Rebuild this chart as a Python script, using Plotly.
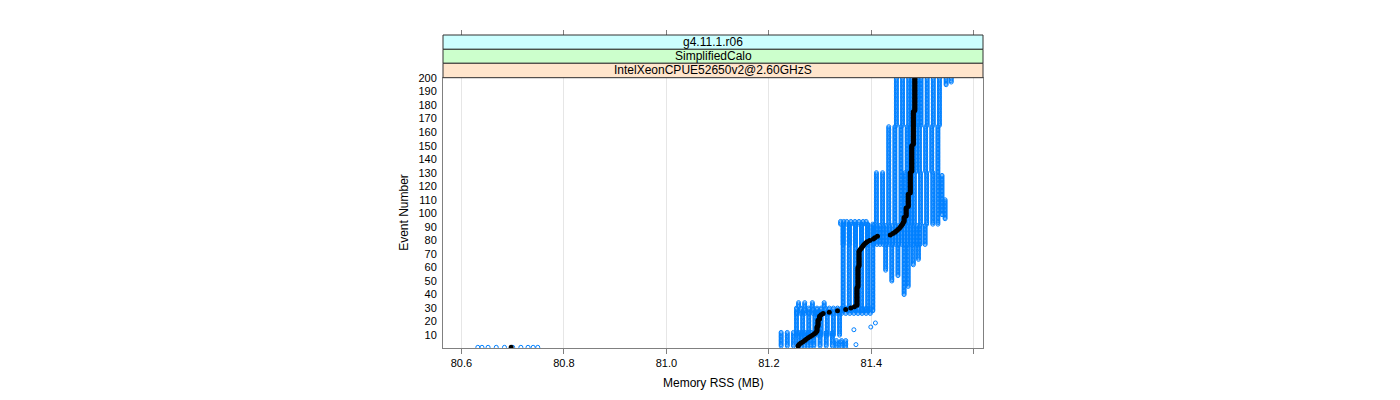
import plotly.graph_objects as go

# ---------------- data ----------------
# black series: (memory RSS in MB, number of consecutive events with that value), events start at 1
black_runs = [
    (80.697, 1),
    (81.257, 1), (81.259, 1), (81.262, 1), (81.266, 1), (81.270, 1), (81.273, 1),
    (81.277, 1), (81.281, 1), (81.285, 1), (81.289, 1), (81.292, 1),
    (81.294, 4), (81.296, 5), (81.299, 3),
    (81.302, 1), (81.306, 1), (81.318, 1), (81.334, 1), (81.350, 1), (81.360, 1), (81.367, 1),
    (81.372, 14), (81.374, 15), (81.376, 12),
    (81.378, 1), (81.380, 1), (81.382, 1), (81.384, 1), (81.386, 1), (81.389, 1), (81.392, 1),
    (81.397, 1), (81.404, 1), (81.407, 1), (81.412, 1), (81.437, 1), (81.442, 1), (81.446, 1),
    (81.449, 1), (81.452, 1), (81.455, 1), (81.457, 1), (81.459, 1), (81.461, 1), (81.462, 1),
    (81.464, 4), (81.468, 7), (81.472, 10), (81.476, 16), (81.479, 20), (81.482, 25), (81.485, 25),
]

# blue series (all other runs): (first event, last event, memory values in MB seen over those events)
blue_bands = [
    (1, 1, [80.632, 80.640, 80.652, 80.668, 80.684, 80.700, 80.716, 80.730, 80.740, 80.749]),
    (2, 12, [81.224, 81.236, 81.248, 81.258, 81.264, 81.270, 81.276, 81.282, 81.288, 81.300, 81.312, 81.324]),
    (1, 6, [81.332, 81.342, 81.350]),
    (10, 27, [81.254, 81.266, 81.278, 81.290, 81.296, 81.302, 81.314, 81.326, 81.338]),
    (26, 30, [81.254, 81.262, 81.270, 81.278, 81.286, 81.294, 81.302, 81.310, 81.318, 81.326, 81.334, 81.342,
              81.350, 81.358, 81.366, 81.374, 81.382, 81.390, 81.398]),
    (31, 34, [81.258, 81.270, 81.285, 81.308]),
    (28, 92, [81.345, 81.357, 81.369, 81.381, 81.393, 81.403]),
    (92, 94, [81.340, 81.346, 81.352, 81.360, 81.368, 81.376, 81.384, 81.390]),
    (77, 91, [81.345, 81.357, 81.369, 81.381, 81.393, 81.405, 81.411, 81.417, 81.423, 81.429, 81.435,
              81.441, 81.447, 81.453, 81.459, 81.465, 81.471, 81.477, 81.483, 81.489, 81.495, 81.505]),
    (58, 77, [81.428]), (50, 77, [81.440]), (54, 77, [81.452]), (40, 77, [81.464]),
    (46, 77, [81.472]), (62, 77, [81.482]), (66, 77, [81.492]),
    (92, 130, [81.410, 81.422, 81.434, 81.446, 81.458, 81.466, 81.472, 81.478, 81.484, 81.496,
               81.508, 81.520, 81.530]),
    (99, 128, [81.538]), (96, 110, [81.544]),
    (131, 164, [81.434, 81.446, 81.458, 81.470, 81.476, 81.482, 81.488, 81.494, 81.506,
                81.518, 81.530]),
    (165, 200, [81.449, 81.461, 81.473, 81.479, 81.485, 81.491, 81.497, 81.509, 81.521, 81.533]),
    (195, 200, [81.546]), (197, 200, [81.556]),
    (3, 3, [81.370]), (5, 5, [81.340]), (14, 14, [81.366]), (16, 16, [81.399]), (19, 19, [81.408]),
]

x_ticks = [80.6, 80.8, 81.0, 81.2, 81.4, 81.6]
x_tick_text = ["80.6", "80.8", "81.0", "81.2", "81.4", ""]
y_ticks = list(range(10, 201, 10))
strip_labels = ["g4.11.1.r06", "SimplifiedCalo", "IntelXeonCPUE52650v2@2.60GHzS"]
strip_colors = ["#ccffff", "#ccffcc", "#ffe5cc"]
x_title = "Memory RSS (MB)"
y_title = "Event Number"

# ---------------- build traces ----------------
black_x, black_e = [], []
ev = 1
for val, cnt in black_runs:
    for _ in range(cnt):
        black_x.append(val)
        black_e.append(ev)
        ev += 1

blue_x, blue_e = [], []
for e0, e1, cols in blue_bands:
    for e in range(e0, e1 + 1):
        for c in cols:
            blue_x.append(c)
            blue_e.append(e)

FONT = "Liberation Sans, Arial, Helvetica, sans-serif"
AX = "#808080"

fig = go.Figure()
fig.add_trace(go.Scatter(x=blue_x, y=blue_e, mode="markers",
                         marker=dict(symbol="circle-open", size=4, color="#0080ff",
                                     line=dict(width=1, color="#0080ff")),
                         showlegend=False, hoverinfo="skip"))
fig.add_trace(go.Scatter(x=black_x, y=black_e, mode="markers",
                         marker=dict(symbol="circle", size=5, color="black"),
                         showlegend=False, hoverinfo="skip"))
fig.add_trace(go.Scatter(x=[None], y=[None], xaxis="x2", showlegend=False, hoverinfo="skip"))

xr = [80.564, 81.618]
y_top = 0.8636
fig.update_layout(
    width=1384, height=384,
    margin=dict(l=435, r=409, t=27, b=44),
    paper_bgcolor="white", plot_bgcolor="white",
    font=dict(family=FONT, size=11, color="black"),
    xaxis=dict(range=xr, tickvals=x_ticks, ticktext=x_tick_text, automargin=False,
               ticks="outside", ticklen=5, tickcolor=AX, showline=True, linecolor=AX,
               mirror=True, showgrid=True, gridcolor="#e6e6e6", gridwidth=1, zeroline=False,
               tickfont=dict(size=11)),
    xaxis2=dict(range=xr, overlaying="x", side="top", anchor="free", position=1.0,
                automargin=False,
                tickvals=x_ticks, ticktext=[""] * len(x_ticks), ticks="outside", ticklen=5,
                tickcolor=AX, showline=False, showgrid=False, zeroline=False),
    yaxis=dict(domain=[0, y_top], range=[0.5, 200.2], tickvals=y_ticks, automargin=False,
               ticks="outside", ticklen=3, tickcolor="rgba(0,0,0,0)",
               showline=True, linecolor=AX, mirror=True, showgrid=False, zeroline=False,
               tickfont=dict(size=11)),
)

bounds = [1.0, 0.9543, 0.9096, y_top]
for i, (lab, col) in enumerate(zip(strip_labels, strip_colors)):
    fig.add_shape(type="rect", xref="paper", yref="paper", x0=0, x1=1,
                  y0=bounds[i + 1], y1=bounds[i], fillcolor=col,
                  line=dict(color="#333333", width=1), layer="above")
    fig.add_annotation(xref="paper", yref="paper", x=0.5, y=(bounds[i] + bounds[i + 1]) / 2,
                       text=lab, showarrow=False, font=dict(size=12, color="black"),
                       xanchor="center", yanchor="middle")

fig.add_annotation(xref="paper", yref="paper", x=0.5, y=-0.112, text=x_title, showarrow=False,
                   font=dict(size=12, color="black"), xanchor="center", yanchor="middle")
fig.add_annotation(xref="paper", yref="paper", x=-0.0722, y=y_top / 2, text=y_title, showarrow=False,
                   textangle=-90, font=dict(size=12, color="black"), xanchor="center", yanchor="middle")

fig.write_html("out.html")
